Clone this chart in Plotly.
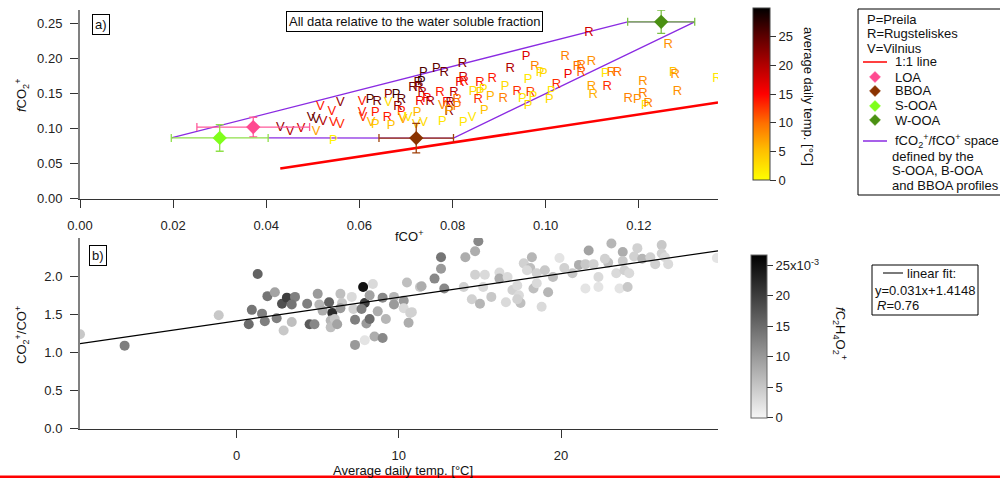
import plotly.graph_objects as go
from plotly.colors import sample_colorscale

# ---------------- Panel a data ----------------
site = ["V","V","V","V","V","V","V","V","V","V","V","V","P","V","V","V","P","R","P","P",
        "V","P","P","R","V","R","P","R","V","V","V","P","P","V","V","P","P","V","P","P",
        "R","R","R","P","R","R","R","R","R","R","R","R","R","R","R","R","R","R","P","V",
        "R","P","P","P","R","R","P","R","P","P","R","P","R","P","P","P","P","R","R","R",
        "P","P","P","R","P","P","R","P","R","R","R","R","R","R","R","P","R","R","R","R",
        "P","R","P","R","R","R","P","R","R","R"]
fco = [0.0430,0.0451,0.0475,0.0496,0.0507,0.0516,0.0522,0.0541,0.0559,0.0544,0.0559,0.0507,0.0544,0.0606,0.0606,0.0608,0.0623,0.0638,0.0634,0.0634,
       0.0625,0.0662,0.0679,0.0690,0.0662,0.0683,0.0690,0.0660,0.0692,0.0694,0.0705,0.0668,0.0724,0.0722,0.0738,0.0778,0.0823,0.0842,0.0737,0.0765,
       0.0782,0.0821,0.0726,0.0733,0.0715,0.0728,0.0735,0.0745,0.0773,0.0803,0.0823,0.0816,0.0825,0.0730,0.0752,0.0788,0.0795,0.0810,0.0810,0.0778,
       0.0793,0.0793,0.0844,0.0859,0.0859,0.0855,0.0866,0.0885,0.0881,0.0868,0.0924,0.0958,0.0977,0.0988,0.0995,0.0913,0.0962,0.0909,0.0939,0.0967,
       0.0950,0.0973,0.0962,0.1023,0.1012,0.1008,0.1042,0.1048,0.1068,0.1076,0.1076,0.1098,0.1098,0.1102,0.1132,0.1128,0.1141,0.1154,0.1209,0.1177,
       0.1197,0.1209,0.1214,0.1220,0.1093,0.1263,0.1274,0.1278,0.1283,0.1368]
fco2 = [0.101,0.095,0.099,0.116,0.113,0.131,0.109,0.124,0.136,0.108,0.105,0.095,0.082,0.138,0.122,0.116,0.141,0.138,0.122,0.105,
        0.108,0.148,0.148,0.141,0.136,0.131,0.124,0.115,0.116,0.112,0.116,0.104,0.122,0.106,0.108,0.109,0.108,0.115,0.180,0.185,
        0.179,0.192,0.165,0.166,0.158,0.158,0.151,0.143,0.151,0.151,0.173,0.165,0.166,0.138,0.138,0.136,0.136,0.141,0.131,0.133,
        0.124,0.126,0.152,0.151,0.165,0.141,0.155,0.171,0.145,0.126,0.185,0.202,0.188,0.179,0.178,0.159,0.169,0.143,0.152,0.151,
        0.142,0.145,0.133,0.162,0.153,0.141,0.202,0.176,0.188,0.189,0.179,0.195,0.159,0.148,0.159,0.178,0.180,0.180,0.166,0.142,
        0.141,0.149,0.133,0.135,0.236,0.220,0.180,0.176,0.153,0.171]
temp = [22,20,18,24,25,14,20,14,22,14,13,7,1,14,14,13,26,24,14,4,
        6,22,27,25,3,22,14,14,3,7,2,5,6,4,3,2,2,2,26,25,
        24,23,25,27,24,22,20,15,14,19,19,16,14,16,21,15,22,10,9,8,
        22,7,3,4,14,13,2,14,6,5,20,17,9,3,3,3,2,9,13,12,
        2,2,3,13,2,3,9,16,10,9,11,8,7,6,13,2,9,10,8,9,
        8,9,2,9,18,8,5,8,8,2]

profiles = ["LOA", "BBOA", "S-OOA", "W-OOA"]
prof_fco = [0.0372, 0.0722, 0.0300, 0.1248]
prof_fco2 = [0.1020, 0.0864, 0.0866, 0.2520]
prof_fco_err = [0.0121, 0.0080, 0.0104, 0.0072]
prof_fco2_err = [0.0140, 0.0210, 0.0190, 0.0165]
prof_marker_col = ["#ff4a90", "#8b3300", "#7fff1a", "#4a9012"]
prof_err_col = ["#ff5a9a", "#a0400a", "#8fe04a", "#7cc045"]

one_to_one = [0.043, 0.137]

# ---------------- Panel b data ----------------
tavg = [-9.65,-6.9,-1.1,1.3,0.75,0.94,1.57,1.74,1.9,2.36,2.47,2.8,3.1,2.9,3.4,3.6,3.4,4.35,4.5,4.8,
        5.0,5.1,5.3,5.7,5.9,5.8,5.8,6.05,6.2,6.4,6.5,6.4,7.1,7.2,7.3,7.3,7.8,7.9,7.7,7.9,
        8.0,8.2,8.2,8.4,8.5,8.7,9.0,9.0,9.2,9.7,9.7,10.3,10.5,10.6,10.3,10.8,11.3,14.9,14.7,12.6,
        12.6,12.2,11.4,12.8,14.1,14.0,14.5,14.7,15.3,15.2,15.7,16.2,16.2,16.7,17.0,17.3,17.4,17.5,17.7,18.2,
        18.1,17.9,18.3,18.5,18.5,19.0,19.2,19.5,19.9,20.2,20.7,21.1,21.5,21.7,21.5,22.0,22.3,22.3,22.9,22.7,
        23.1,23.4,23.6,23.8,23.8,23.9,24.2,24.1,24.5,24.7,25.0,25.5,25.8,26.2,26.2,26.6,26.4,29.6,18.8,17.3,
        16.6,15.0,10.7]
ratio = [1.24,1.09,1.49,2.03,1.37,1.56,1.51,1.41,1.74,1.79,1.45,1.64,1.72,1.29,1.40,1.73,1.63,1.64,1.37,1.37,
         1.77,1.63,1.55,1.66,1.52,1.42,1.33,1.44,1.37,1.77,1.65,1.58,1.73,1.57,1.43,1.10,1.86,1.65,1.57,1.16,
         1.38,1.44,1.75,1.90,1.21,1.54,1.19,1.72,1.44,1.73,1.63,1.68,1.92,1.39,1.58,1.53,1.86,2.46,2.33,2.25,
         2.10,1.97,1.87,1.84,2.25,1.86,1.70,2.02,2.02,1.86,1.73,2.05,1.97,1.99,1.82,1.88,1.75,1.65,2.17,2.25,
         2.11,2.08,1.84,2.04,1.91,2.08,1.79,1.99,2.24,2.11,2.04,2.15,1.84,2.34,2.16,2.16,1.99,1.86,2.18,2.23,
         2.43,2.04,1.84,2.32,2.20,2.08,2.04,1.86,2.26,2.37,2.23,2.25,2.16,2.41,2.30,2.16,2.25,2.24,1.60,1.70,
         1.66,1.64,1.52]
fc2h4o2 = [5,13,5,16,15,14,13,13,14,9,13,18,20,5,6,13,14,13,17,12,
           10,7,8,16,22,7,6,5,9,6,5,10,3,4,13,10,25,20,13,2,
           10,15,9,3,8,8,12,12,7,7,10,10,6,8,3,4,5,12,8,14,
           10,12,8,12,8,4,4,4,3,3,5,3,8,3,4,3,3,6,4,7,
           6,3,6,4,3,5,7,6,2,4,5,8,2,9,5,4,3,2,6,4,
           7,3,2,8,5,4,3,5,4,4,7,4,4,5,4,3,3,2,3,4,
           3,7,4]
fc2h4o2 = [v * 1e-3 for v in fc2h4o2]
fit_slope, fit_intercept = 0.031, 1.4148
fit_x = [-9.65, 29.67]

# ---------------- helpers for layout positions ----------------
W, H = 1000, 478
def X(px): return px / W
def Y(py): return 1 - py / H

FONT = "Arial, Liberation Sans, sans-serif"
temp_scale = [[0, "#ffff00"], [0.17, "#ffc000"], [0.33, "#ff7000"], [0.5, "#ff0000"],
              [0.67, "#b00000"], [0.84, "#5a0000"], [1, "#000000"]]
grey_scale = [[0, "#f6f6f6"], [1, "#000000"]]
TMAX = 30.0
CMAX = 0.0268

fig = go.Figure()

# polygon defined by S-OOA, W-OOA, BBOA profiles (ends of error bars)
iS, iW, iB = 2, 3, 1
poly_x = [prof_fco[iS] - prof_fco_err[iS], prof_fco[iW] - prof_fco_err[iW],
          prof_fco[iW] + prof_fco_err[iW], prof_fco[iB] + prof_fco_err[iB],
          prof_fco[iS] + prof_fco_err[iS]]
poly_y = [prof_fco2[iS], prof_fco2[iW], prof_fco2[iW], prof_fco2[iB], prof_fco2[iS]]
fig.add_trace(go.Scatter(x=poly_x, y=poly_y, mode="lines",
                         line=dict(color="#8a2be2", width=1.3),
                         xaxis="x", yaxis="y", showlegend=False, hoverinfo="skip"))

# 1:1 line
fig.add_trace(go.Scatter(x=one_to_one, y=one_to_one, mode="lines",
                         line=dict(color="#ff0000", width=2.5),
                         xaxis="x", yaxis="y", showlegend=False))

# letters coloured by temperature
txt_cols = sample_colorscale(temp_scale, [t / TMAX for t in temp])
fig.add_trace(go.Scatter(
    x=fco, y=fco2, mode="text+markers", text=site,
    textposition="middle center",
    textfont=dict(family=FONT, size=13, color=txt_cols),
    marker=dict(size=1, opacity=0, color=temp, colorscale=temp_scale, cmin=0, cmax=TMAX,
                showscale=True,
                colorbar=dict(x=X(753), xanchor="left", xpad=0, y=Y(180), yanchor="bottom", ypad=0,
                              len=172, lenmode="pixels", thickness=17, thicknessmode="pixels",
                              tickvals=[0, 5, 10, 15, 20, 25], ticks="outside", ticklen=6,
                              tickcolor="#333", outlinecolor="#444", outlinewidth=1,
                              tickfont=dict(family=FONT, size=13, color="#222"))),
    xaxis="x", yaxis="y", showlegend=False))

# profile diamonds with error bars
for i in range(len(profiles)):
    fig.add_trace(go.Scatter(
        x=[prof_fco[i]], y=[prof_fco2[i]], mode="markers",
        marker=dict(symbol="diamond", size=11, color=prof_marker_col[i]),
        error_x=dict(type="data", array=[prof_fco_err[i]], color=prof_err_col[i], thickness=1.3, width=4),
        error_y=dict(type="data", array=[prof_fco2_err[i]], color=prof_err_col[i], thickness=1.3, width=4),
        xaxis="x", yaxis="y", showlegend=False, name=profiles[i]))

# panel b scatter
fig.add_trace(go.Scatter(
    x=tavg, y=ratio, mode="markers",
    marker=dict(size=10, color=fc2h4o2, colorscale=grey_scale, cmin=0, cmax=CMAX,
                line=dict(width=0), showscale=True,
                colorbar=dict(x=X(751), xanchor="left", xpad=0, y=Y(417.5), yanchor="bottom", ypad=0,
                              len=162.5, lenmode="pixels", thickness=16, thicknessmode="pixels",
                              tickvals=[0, 0.005, 0.010, 0.015, 0.020, 0.025],
                              ticktext=["0", "5", "10", "15", "20", "25x10<sup>-3</sup>"],
                              ticks="outside", ticklen=6, tickcolor="#333",
                              outlinecolor="#666", outlinewidth=1,
                              tickfont=dict(family=FONT, size=13, color="#222"))),
    xaxis="x2", yaxis="y2", showlegend=False))

fit_y = [fit_slope * v + fit_intercept for v in fit_x]
fig.add_trace(go.Scatter(x=fit_x, y=fit_y, mode="lines", line=dict(color="#000", width=1.2),
                         xaxis="x2", yaxis="y2", showlegend=False))

axis_common = dict(showgrid=False, zeroline=False, showline=True, ticks="outside", automargin=False,
                   ticklen=8, tickcolor="#333", tickfont=dict(family=FONT, size=13, color="#222"))

fig.update_layout(
    width=W, height=H, margin=dict(l=0, r=0, t=0, b=0, autoexpand=False),
    paper_bgcolor="white", plot_bgcolor="rgba(0,0,0,0)",
    font=dict(family=FONT, size=13, color="#222"),
    xaxis=dict(domain=[X(80), X(718)], range=[0, 0.137], anchor="y",
               tickvals=[0, 0.02, 0.04, 0.06, 0.08, 0.10, 0.12], tickformat=".2f",
               linecolor="#333", linewidth=1, ticklabelstandoff=7, **axis_common),
    yaxis=dict(domain=[Y(198.7), Y(10)], range=[0, 0.2688], anchor="x",
               tickvals=[0, 0.05, 0.10, 0.15, 0.20, 0.25], tickformat=".2f",
               linecolor="#808080", linewidth=2, ticklabelstandoff=5, **axis_common),
    xaxis2=dict(domain=[X(80), X(718)], range=[-9.65, 29.67], anchor="y2",
                tickvals=[0, 10, 20], linecolor="#333", linewidth=1, ticklabelstandoff=7, **axis_common),
    yaxis2=dict(domain=[Y(428.7), Y(238)], range=[0, 2.503], anchor="x2",
                tickvals=[0, 0.5, 1.0, 1.5, 2.0], tickformat=".1f",
                linecolor="#808080", linewidth=2, ticklabelstandoff=5, **axis_common),
)

ann = []
def A(px, py, text, **kw):
    d = dict(x=X(px), y=Y(py), xref="paper", yref="paper", text=text, showarrow=False,
             xanchor="center", yanchor="middle",
             font=dict(family=FONT, size=13, color="#111"))
    d.update(kw)
    ann.append(d)

# panel labels and boxes
A(101, 24, "a)", bordercolor="#000", borderwidth=1, borderpad=2, bgcolor="white")
A(98, 255, "b)", bordercolor="#000", borderwidth=1, borderpad=2, bgcolor="white")
A(414, 22, "All data relative to the water soluble fraction", bordercolor="#000",
  borderwidth=1, borderpad=2, bgcolor="white")
# axis titles
A(22, 95, "<i>f</i>CO<sub>2</sub><sup>+</sup>", textangle=-90)
A(409, 236, "fCO<sup>+</sup>")
A(22, 335, "CO<sub>2</sub><sup>+</sup>/CO<sup>+</sup>", textangle=-90)
A(403, 470, "Average daily temp. [°C]")
# colourbar titles
A(808, 96, "average daily temp. [°C]", textangle=90)
A(840, 333, "<i>f</i>C<sub>2</sub>H<sub>4</sub>O<sub>2</sub><sup>+</sup>", textangle=90)

# legend a text
for py_, t in [(19, "P=Preila"), (33, "R=Rugsteliskes"), (48, "V=Vilnius")]:
    A(865, py_, t, xanchor="left")
A(893, 62, "1:1 line", xanchor="left")
for py_, t in [(77, "LOA"), (91, "BBOA"), (106, "S-OOA"), (120, "W-OOA")]:
    A(893, py_, t, xanchor="left")
A(893, 141, "fCO<sub>2</sub><sup>+</sup>/fCO<sup>+</sup> space", xanchor="left")
A(890, 156, "defined by the", xanchor="left")
A(890, 171, "S-OOA, B-OOA", xanchor="left")
A(890, 185, "and BBOA profiles", xanchor="left")
# legend b text
A(905, 273, "linear fit:", xanchor="left")
A(873, 290, "y=0.031x+1.4148", xanchor="left")
A(875, 305, "<i>R</i>=0.76", xanchor="left")

shapes = []
def rect(x0, y0, x1, y1):
    shapes.append(dict(type="rect", xref="paper", yref="paper", x0=X(x0), x1=X(x1),
                       y0=Y(y1), y1=Y(y0), line=dict(color="#000", width=1)))
def hline(x0, x1, py_, color, width):
    shapes.append(dict(type="line", xref="paper", yref="paper", x0=X(x0), x1=X(x1),
                       y0=Y(py_), y1=Y(py_), line=dict(color=color, width=width)))
def diamond(cx, cy, s, color):
    path = "M {:.5f},{:.5f} L {:.5f},{:.5f} L {:.5f},{:.5f} L {:.5f},{:.5f} Z".format(
        X(cx - s), Y(cy), X(cx), Y(cy - s), X(cx + s), Y(cy), X(cx), Y(cy + s))
    shapes.append(dict(type="path", xref="paper", yref="paper", path=path,
                       fillcolor=color, line=dict(color=color, width=0.5)))

rect(858, 9, 1001, 195)
hline(863, 887, 62, "#ff0000", 1.5)
for cy, col in zip([77, 91, 106, 120], prof_marker_col):
    diamond(875, cy, 5.5, col)
hline(863, 887, 141, "#8a2be2", 1.5)
rect(872, 265, 978, 315)
hline(883, 903, 273, "#222", 1.2)
# red line at the very bottom of the picture
hline(0, 1000, 477, "#ff0000", 3)

fig.update_layout(annotations=ann, shapes=shapes)
fig.write_html("out.html")
